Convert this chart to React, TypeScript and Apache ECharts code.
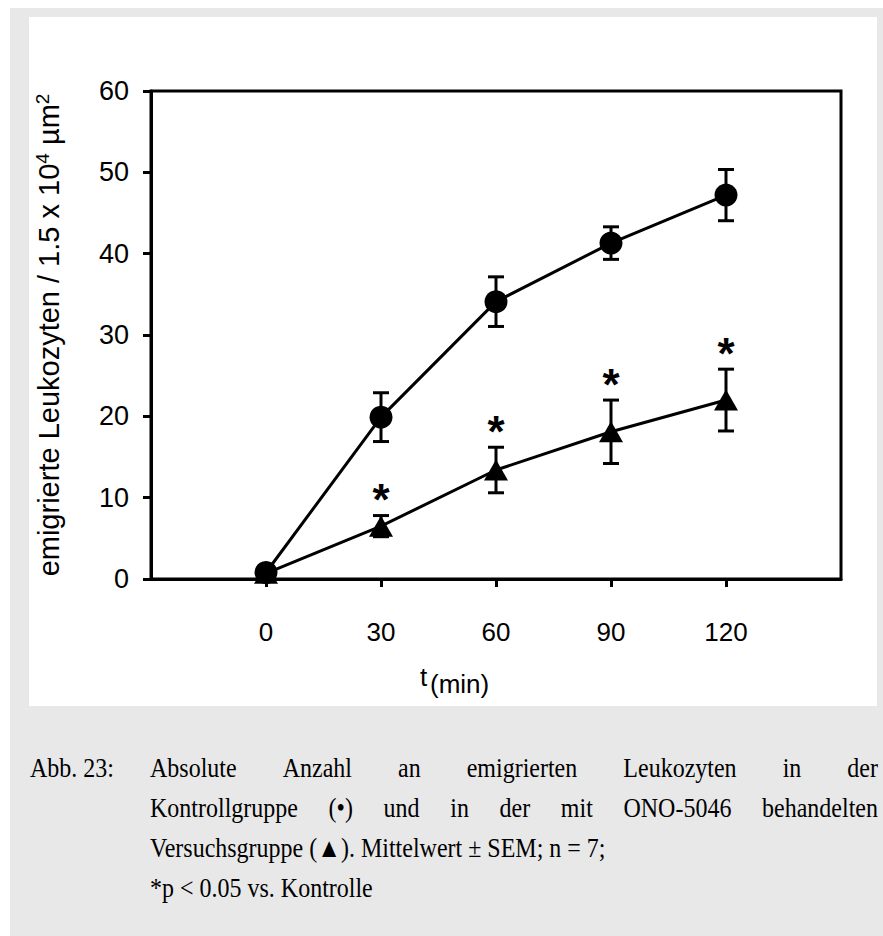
import React, { useEffect, useRef } from 'react';
import * as echarts from 'echarts';

// ---- data ----
const timePoints = [0, 30, 60, 90, 120];
const controlMean = [0.8, 19.9, 34.1, 41.3, 47.2];
const controlSem = [0.3, 3.0, 3.05, 2.0, 3.15];
const onoMean = [0.7, 6.5, 13.4, 18.1, 22.0];
const onoSem = [0.3, 1.3, 2.8, 3.9, 3.8];
const onoSignificant = [false, true, true, true, true];
const xTickMin = -30;
const xTickMax = 150;
const xTickStep = 30;
const yTickMax = 60;
const yTickStep = 10;

const captionLabel = 'Abb. 23:';
const captionLines = [
  'Absolute Anzahl an emigrierten Leukozyten in der',
  'Kontrollgruppe (•) und in der mit ONO-5046 behandelten',
  'Versuchsgruppe (▲). Mittelwert ± SEM; n = 7;',
  '*p < 0.05 vs. Kontrolle',
];
const captionJustify = [true, true, false, false];

const SANS = '"Liberation Sans", Arial, sans-serif';
const SERIF = '"Liberation Serif", "Times New Roman", serif';

function errorBarSeries(mean: number[], sem: number[], sig: boolean[] | null) {
  return {
    type: 'custom',
    z: 1,
    silent: true,
    data: timePoints.map((t, i) => [t, mean[i] - sem[i], mean[i] + sem[i], sig && sig[i] ? 1 : 0]),
    renderItem: (params: any, api: any) => {
      const x = api.value(0);
      const lo = api.coord([x, api.value(1)]);
      const hi = api.coord([x, api.value(2)]);
      const hw = 8;
      const style = { stroke: '#000', lineWidth: 3 };
      const children: any[] = [
        { type: 'line', shape: { x1: lo[0], y1: lo[1], x2: hi[0], y2: hi[1] }, style },
        { type: 'line', shape: { x1: lo[0] - hw, y1: lo[1], x2: lo[0] + hw, y2: lo[1] }, style },
        { type: 'line', shape: { x1: hi[0] - hw, y1: hi[1], x2: hi[0] + hw, y2: hi[1] }, style },
      ];
      if (api.value(3) === 1) {
        children.push({
          type: 'text',
          x: hi[0],
          y: hi[1] - 16,
          style: {
            text: '*',
            fill: '#000',
            font: `bold 44px ${SANS}`,
            align: 'center',
            verticalAlign: 'middle',
          },
        });
      }
      return { type: 'group', children };
    },
  };
}

export default function App() {
  const ref = useRef<HTMLDivElement>(null);
  useEffect(() => {
    if (!ref.current) return;
    const chart = echarts.init(ref.current, null, { renderer: 'svg' });

    const canvas = document.createElement('canvas');
    const ctx = canvas.getContext('2d')!;
    const captionFont = `24px ${SERIF}`;
    ctx.font = captionFont;
    const captionStyle = { fill: '#000', font: captionFont, verticalAlign: 'middle' };
    const sy = 1.12;
    const x0 = 150;
    const x1 = 878;
    const y0 = 768;
    const lh = 40;
    const captionEls: any[] = [
      { type: 'text', x: 30, y: y0, z: 10, scaleY: sy, style: { ...captionStyle, text: captionLabel } },
    ];
    captionLines.forEach((line, li) => {
      const y = y0 + li * lh;
      if (captionJustify[li]) {
        const words = line.split(' ');
        const widths = words.map((w) => ctx.measureText(w).width);
        const total = widths.reduce((a, b) => a + b, 0);
        const gap = (x1 - x0 - total) / (words.length - 1);
        let x = x0;
        words.forEach((w, i) => {
          captionEls.push({ type: 'text', x, y, z: 10, scaleY: sy, style: { ...captionStyle, text: w } });
          x += widths[i] + gap;
        });
      } else {
        captionEls.push({ type: 'text', x: x0, y, z: 10, scaleY: sy, style: { ...captionStyle, text: line } });
      }
    });

    const option: any = {
      animation: false,
      backgroundColor: '#fff',
      grid: {
        left: 151,
        right: 42,
        top: 91,
        bottom: 357,
        show: true,
        borderColor: '#000',
        borderWidth: 3,
        backgroundColor: 'transparent',
      },
      xAxis: {
        type: 'value',
        min: xTickMin,
        max: xTickMax,
        interval: xTickStep,
        axisLine: { onZero: false, lineStyle: { color: '#000', width: 3 } },
        axisTick: { show: true, inside: false, length: 8, lineStyle: { color: '#000', width: 3 } },
        axisLabel: {
          showMinLabel: false,
          showMaxLabel: false,
          color: '#000',
          fontSize: 26,
          fontFamily: SANS,
          margin: 40,
        },
        splitLine: { show: false },
      },
      yAxis: {
        type: 'value',
        min: 0,
        max: yTickMax,
        interval: yTickStep,
        axisLine: { onZero: false, lineStyle: { color: '#000', width: 3 } },
        axisTick: { show: true, inside: false, length: 8, lineStyle: { color: '#000', width: 3 } },
        axisLabel: { color: '#000', fontSize: 27, fontFamily: SANS, margin: 22 },
        splitLine: { show: false },
        name: '{n|emigrierte Leukozyten / 1.5 x 10}{s|4}{n| µm}{s|2}',
        nameLocation: 'middle',
        nameRotate: 90,
        nameGap: 86,
        nameTextStyle: {
          rich: {
            n: { fontSize: 29, fontFamily: SANS, color: '#000', lineHeight: 32 },
            s: { fontSize: 19, fontFamily: SANS, color: '#000', lineHeight: 32, verticalAlign: 'top' },
          },
        },
      },
      graphic: [
        { type: 'rect', z: -10, silent: true, shape: { x: 10, y: 8, width: 873, height: 928 }, style: { fill: '#e8e8e8' } },
        { type: 'rect', z: -9, silent: true, shape: { x: 29, y: 17, width: 848, height: 689 }, style: { fill: '#fff' } },
        { type: 'text', x: 420, y: 664, z: 10, style: { text: 't', fill: '#000', font: `26px ${SANS}` } },
        { type: 'text', x: 430, y: 671, z: 10, style: { text: '(min)', fill: '#000', font: `26px ${SANS}` } },
        ...captionEls,
      ],
      series: [
        errorBarSeries(controlMean, controlSem, null),
        errorBarSeries(onoMean, onoSem, onoSignificant),
        {
          type: 'line',
          z: 3,
          data: timePoints.map((t, i) => [t, controlMean[i]]),
          symbol: 'circle',
          symbolSize: 23,
          itemStyle: { color: '#000' },
          lineStyle: { color: '#000', width: 3 },
        },
        {
          type: 'line',
          z: 3,
          data: timePoints.map((t, i) => [t, onoMean[i]]),
          symbol: 'triangle',
          symbolSize: [24, 21],
          itemStyle: { color: '#000' },
          lineStyle: { color: '#000', width: 3 },
        },
      ],
    };
    chart.setOption(option);
    return () => chart.dispose();
  }, []);
  return <div ref={ref} style={{ position: 'fixed', left: 0, top: 0, width: 883, height: 936 }} />;
}
